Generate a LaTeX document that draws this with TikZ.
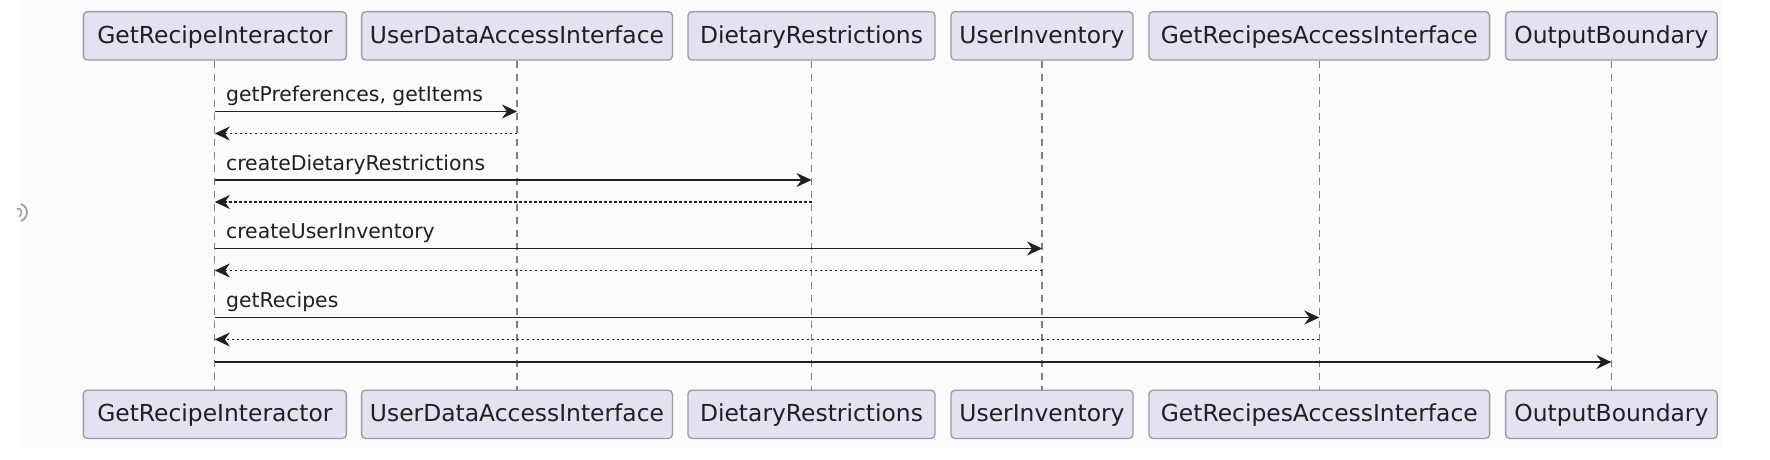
\documentclass[tikz,border=0pt]{standalone}
\usepackage{fontspec}
\setmainfont{DejaVu Sans}
\usetikzlibrary{arrows.meta}
\definecolor{boxfill}{HTML}{E2E2F0}
\definecolor{boxline}{HTML}{9A9AA2}
\definecolor{ink}{HTML}{202020}
\definecolor{lifecol}{HTML}{808080}
\definecolor{bgcol}{HTML}{FBFBFB}
\tikzset{
  part/.style={draw=boxline, line width=1.3pt, fill=boxfill, rounded corners=4pt,
    minimum height=48.3pt, inner sep=0pt, text=ink, text height=20pt, text depth=5pt,
    font=\fontsize{23.4}{26}\selectfont},
  lifeline/.style={draw=lifecol, line width=1.1pt, dash pattern=on 7pt off 6pt},
  callmsg/.style={draw=ink, line width=1.6pt, -{Stealth[length=15pt,width=14pt,inset=5pt]}},
  retmsg/.style={draw=ink, line width=1.1pt, dash pattern=on 2.5pt off 2.5pt,
    -{Stealth[length=15pt,width=14pt,inset=5pt]}},
  msglabel/.style={anchor=base west, inner sep=0pt, text=ink,
    font=\fontsize{20.4}{24}\selectfont}
}
\begin{document}
\begin{tikzpicture}[x=1pt,y=-1pt]
\useasboundingbox (0,0) rectangle (1770,460);
\fill[bgcol] (20,0) rectangle (1722,448);
% odd mark at the left edge
\draw[gray!70, line width=2pt] (18,212.5) ++(-70:9) arc[start angle=-70, end angle=70, radius=9];
\draw[gray!70, line width=1.6pt] (17,209) .. controls (22,207) and (23,214) .. (19,217);
% participants (top)
\node[part, minimum width=263pt]   (t1) at (214.85,35.85) {GetRecipeInteractor};
\node[part, minimum width=310.8pt] (t2) at (517,35.85) {UserDataAccessInterface};
\node[part, minimum width=247pt]   (t3) at (811.5,35.85) {DietaryRestrictions};
\node[part, minimum width=182pt]   (t4) at (1042,35.85) {UserInventory};
\node[part, minimum width=340.6pt] (t5) at (1319.3,35.85) {GetRecipesAccessInterface};
\node[part, minimum width=211.6pt] (t6) at (1611.4,35.85) {OutputBoundary};
% participants (bottom)
\node[part, minimum width=263pt]   (b1) at (214.85,414.3) {GetRecipeInteractor};
\node[part, minimum width=310.8pt] (b2) at (517,414.3) {UserDataAccessInterface};
\node[part, minimum width=247pt]   (b3) at (811.5,414.3) {DietaryRestrictions};
\node[part, minimum width=182pt]   (b4) at (1042,414.3) {UserInventory};
\node[part, minimum width=340.6pt] (b5) at (1319.3,414.3) {GetRecipesAccessInterface};
\node[part, minimum width=211.6pt] (b6) at (1611.4,414.3) {OutputBoundary};
% lifelines
\foreach \i in {1,...,6} { \draw[lifeline] (t\i.south) -- (b\i.north); }
% message points
\foreach \n/\y in {m1/111.5, r1/133.5, m2/180, r2/202, m3/248.5, r3/270.5, m4/317.5, r4/339.5, m5/362} {
  \foreach \i in {1,...,6} { \coordinate (\n p\i) at (t\i.south |- 0,\y); }
}
% messages
\draw[callmsg] (m1p1) -- (m1p2);
\node[msglabel] (l1) at ([xshift=11pt,yshift=10pt]m1p1) {getPreferences, getItems};
\draw[retmsg] (r1p2) -- (r1p1);
\draw[callmsg] (m2p1) -- (m2p3);
\node[msglabel] (l2) at ([xshift=11pt,yshift=10pt]m2p1) {createDietaryRestrictions};
\draw[retmsg] (r2p3) -- (r2p1);
\draw[callmsg] (m3p1) -- (m3p4);
\node[msglabel] (l3) at ([xshift=11pt,yshift=10pt]m3p1) {createUserInventory};
\draw[retmsg] (r3p4) -- (r3p1);
\draw[callmsg] (m4p1) -- (m4p5);
\node[msglabel] (l4) at ([xshift=11pt,yshift=10pt]m4p1) {getRecipes};
\draw[retmsg] (r4p5) -- (r4p1);
\draw[callmsg] (m5p1) -- (m5p6);
\end{tikzpicture}
\end{document}
